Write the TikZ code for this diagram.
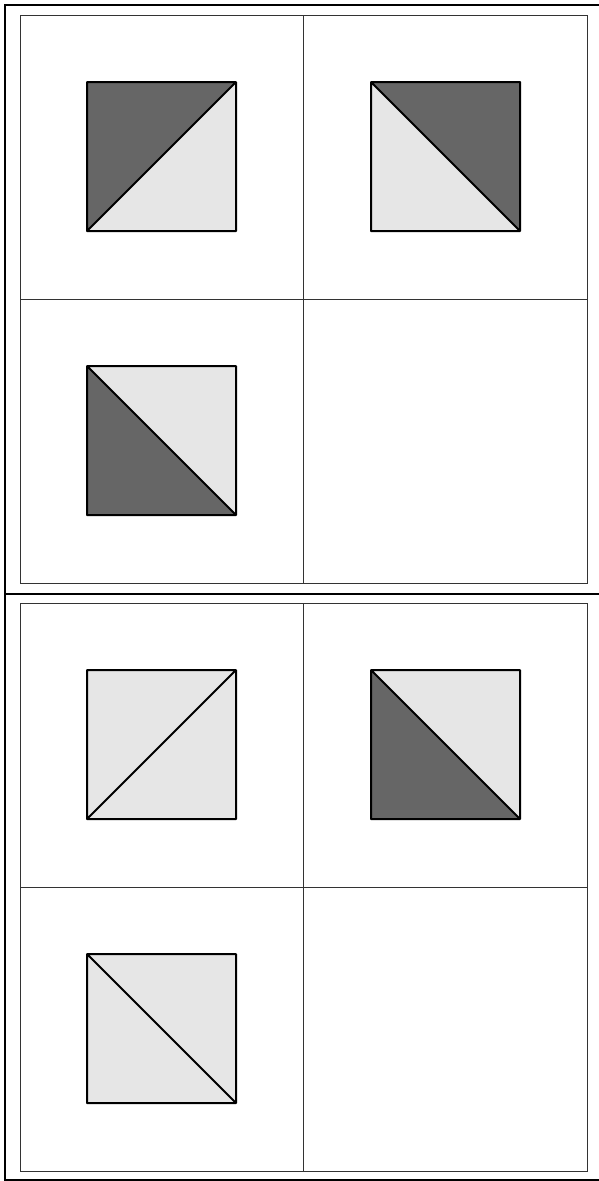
\documentclass[tikz,border=0pt]{standalone}
\usepackage{tikz}
\usetikzlibrary{positioning, calc}

\definecolor{darkhalf}{HTML}{666666}
\definecolor{lighthalf}{HTML}{E6E6E6}

\begin{document}
\begin{tikzpicture}[x=1pt, y=-1pt,
    frame/.style={line width=2.6pt, black},
    cell/.style={line width=1pt, black!80},
    square/.style={line width=2pt, line join=round},
    darkpart/.style={fill=darkhalf},
    lightpart/.style={fill=lighthalf}
]
    \useasboundingbox (0,0) rectangle (599,1181);
    \clip (0,0) rectangle (599,1181);

    % Outer frames
    \draw[frame] (5,5) rectangle (620,594);
    \draw[frame] (5,594) rectangle (620,1180);

    % Grids
    \foreach \top in {15,603} {
        \draw[cell] (20,\top) rectangle (587,\top+568);
        \draw[cell] (303,\top) -- (303,\top+568);
        \draw[cell] (20,\top+284) -- (587,\top+284);
    }

    % Top half, first square
    \coordinate (a1) at (87,82);   \coordinate (b1) at (236,82);
    \coordinate (c1) at (236,231); \coordinate (d1) at (87,231);
    \fill[darkpart] (a1) -- (b1) -- (d1) -- cycle;
    \fill[lightpart] (b1) -- (c1) -- (d1) -- cycle;
    \draw[square] (a1) -- (b1) -- (c1) -- (d1) -- cycle (d1) -- (b1);

    % Top half, second square
    \coordinate (a2) at (371,82);  \coordinate (b2) at (520,82);
    \coordinate (c2) at (520,231); \coordinate (d2) at (371,231);
    \fill[darkpart] (a2) -- (b2) -- (c2) -- cycle;
    \fill[lightpart] (a2) -- (c2) -- (d2) -- cycle;
    \draw[square] (a2) -- (b2) -- (c2) -- (d2) -- cycle (a2) -- (c2);

    % Top half, third square
    \coordinate (a3) at (87,366);  \coordinate (b3) at (236,366);
    \coordinate (c3) at (236,515); \coordinate (d3) at (87,515);
    \fill[lightpart] (a3) -- (b3) -- (c3) -- cycle;
    \fill[darkpart] (a3) -- (c3) -- (d3) -- cycle;
    \draw[square] (a3) -- (b3) -- (c3) -- (d3) -- cycle (a3) -- (c3);

    % Bottom half, first square
    \coordinate (a4) at (87,670);  \coordinate (b4) at (236,670);
    \coordinate (c4) at (236,819); \coordinate (d4) at (87,819);
    \fill[lightpart] (a4) -- (b4) -- (c4) -- (d4) -- cycle;
    \draw[square] (a4) -- (b4) -- (c4) -- (d4) -- cycle (d4) -- (b4);

    % Bottom half, second square
    \coordinate (a5) at (371,670);  \coordinate (b5) at (520,670);
    \coordinate (c5) at (520,819); \coordinate (d5) at (371,819);
    \fill[lightpart] (a5) -- (b5) -- (c5) -- cycle;
    \fill[darkpart] (a5) -- (c5) -- (d5) -- cycle;
    \draw[square] (a5) -- (b5) -- (c5) -- (d5) -- cycle (a5) -- (c5);

    % Bottom half, third square
    \coordinate (a6) at (87,954);   \coordinate (b6) at (236,954);
    \coordinate (c6) at (236,1103); \coordinate (d6) at (87,1103);
    \fill[lightpart] (a6) -- (b6) -- (c6) -- (d6) -- cycle;
    \draw[square] (a6) -- (b6) -- (c6) -- (d6) -- cycle (a6) -- (c6);
\end{tikzpicture}
\end{document}
